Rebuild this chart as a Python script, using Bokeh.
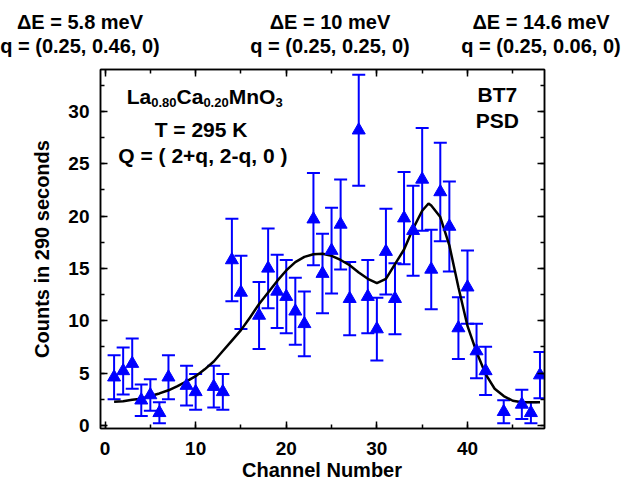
from bokeh.plotting import figure
from bokeh.layouts import column
from bokeh.models import (ColumnDataSource, Whisker, TeeHead, Label, LinearAxis,
                          SingleIntervalTicker, Range1d, Div)
from bokeh.embed import file_html
from bokeh.resources import INLINE

# ---- data ----
channel = [1, 2, 3, 4, 5, 6, 7, 9, 10, 12, 13, 14, 15, 17, 18, 19, 20, 21, 22, 23,
           24, 25, 26, 27, 28, 29, 30, 31, 32, 33, 34, 35, 36, 37, 38, 39, 40, 41,
           42, 44, 46, 47, 48]
counts = [4.6, 5.2, 5.9, 2.4, 2.9, 1.2, 4.6, 3.8, 3.2, 3.7, 3.2, 15.8, 12.7, 10.5,
          15.0, 12.8, 12.3, 10.9, 9.7, 19.7, 14.5, 16.7, 19.2, 12.1, 28.2, 12.3,
          9.2, 16.6, 12.1, 19.8, 18.6, 23.5, 14.9, 22.3, 19.0, 9.3, 13.2, 7.1,
          5.2, 1.3, 2.0, 1.2, 4.8]
errors = [2.1, 2.25, 2.4, 1.5, 1.5, 1.0, 2.1, 1.9, 1.7, 2.0, 1.7, 3.95, 3.5, 3.2,
          3.8, 3.5, 3.5, 3.2, 3.1, 4.4, 3.8, 4.1, 4.3, 3.5, 5.3, 3.5, 3.0, 4.1,
          3.4, 4.4, 4.3, 4.9, 3.8, 4.7, 4.3, 2.95, 3.5, 2.6, 2.3, 1.1, 1.4, 1.0, 2.2]
fit_channel = [1, 2, 3, 4, 5, 6, 7, 8, 9, 10, 11, 12, 13, 14, 15, 16, 17, 18, 19,
               20, 21, 22, 23, 24, 25, 26, 27, 28, 29, 30, 31, 32, 33, 34, 35, 35.7,
               36, 37, 38, 39, 40, 41, 42, 43, 44, 45, 46, 47, 48]
fit_counts = [2.25, 2.3, 2.45, 2.55, 2.8, 3.05, 3.35, 3.75, 4.2, 4.7, 5.35, 6.1, 7.1,
              8.1, 9.1, 10.3, 11.6, 12.7, 13.8, 14.8, 15.6, 16.1, 16.35, 16.4, 16.2,
              15.8, 15.3, 14.6, 14.0, 13.6, 14.0, 15.4, 16.8, 18.8, 20.5, 21.2, 21.0,
              19.9, 17.2, 13.2, 9.5, 7.0, 4.9, 3.5, 2.8, 2.35, 2.2, 2.2, 2.2]
x_tick_step = 10
y_tick_step = 5

header_texts = ["\u0394E = 5.8 meV", "q = (0.25, 0.46, 0)",
                "\u0394E = 10 meV", "q = (0.25, 0.25, 0)",
                "\u0394E = 14.6 meV", "q = (0.25, 0.06, 0)"]
x_title = "Channel Number"
y_title = "Counts in 290 seconds"

FONT = "Liberation Sans"
W = 629
HEAD_H = 62
FOOT_H = 16
MAIN_H = 482 - HEAD_H - FOOT_H


def esc(s):
    return (s.replace("&", "&amp;").replace("<", "&lt;")
            .encode("ascii", "xmlcharrefreplace").decode())


def text_block(items, w, h, size, line_h):
    parts = []
    for t, cx, top in items:
        parts.append(
            f'<div style="position:absolute;left:{cx}px;top:{top}px;'
            f'transform:translateX(-50%);white-space:nowrap;'
            f'line-height:{line_h}px;font-family:\'{FONT}\';font-weight:bold;'
            f'font-size:{size}px;color:#000;">{esc(t)}</div>')
    return (f'<div style="position:relative;width:{w}px;height:{h}px;'
            f'overflow:visible;">' + "".join(parts) + '</div>')


# ---- header: energy transfer / q labels above the frame ----
head_cx = [80, 80, 330, 330, 541, 541]
head_top = [12, 36, 12, 36, 12, 36]
head = Div(text=text_block(list(zip(header_texts, head_cx, head_top)),
                           W, HEAD_H, 20, 20),
           width=W, height=HEAD_H, margin=0, styles={"overflow": "visible"})

# ---- main plot ----
p = figure(width=W, height=MAIN_H, output_backend="svg", toolbar_location=None,
           x_range=Range1d(-0.5, 48.5), y_range=Range1d(-0.3, 34.0),
           min_border_left=100, min_border_right=85, min_border_top=7,
           min_border_bottom=MAIN_H - 7 - 359, margin=0)
p.grid.visible = False
p.outline_line_color = "black"
p.outline_line_width = 1.5

bottom = p.below[0]
left = p.left[0]
bottom.ticker = SingleIntervalTicker(interval=x_tick_step, num_minor_ticks=2)
left.ticker = SingleIntervalTicker(interval=y_tick_step, num_minor_ticks=2)

top = LinearAxis(ticker=SingleIntervalTicker(interval=x_tick_step, num_minor_ticks=2))
right = LinearAxis(ticker=SingleIntervalTicker(interval=y_tick_step, num_minor_ticks=2))
p.add_layout(top, "above")
p.add_layout(right, "right")

for ax in [bottom, left, top, right]:
    ax.major_tick_in = 7
    ax.major_tick_out = 0
    ax.minor_tick_in = 4
    ax.minor_tick_out = 0
    ax.axis_line_width = 1.5
    ax.major_tick_line_width = 1.5
    ax.minor_tick_line_width = 1.5
    ax.axis_line_color = "black"
    ax.major_label_text_font = FONT
    ax.major_label_text_font_style = "bold"
    ax.major_label_text_font_size = "19px"
    ax.major_label_text_color = "black"
    ax.axis_label_text_font = FONT
    ax.axis_label_text_font_style = "bold"
    ax.axis_label_text_font_size = "20px"
    ax.axis_label_text_color = "black"

for ax in [top, right]:
    ax.major_label_text_color = None
    ax.major_label_text_font_size = "1px"
    ax.major_label_standoff = 0

bottom.major_label_standoff = 13
left.major_label_standoff = 11
left.axis_label = y_title
left.axis_label_standoff = 12

src = ColumnDataSource(dict(
    x=channel, y=counts,
    upper=[c + e for c, e in zip(counts, errors)],
    lower=[c - e for c, e in zip(counts, errors)],
))

w = Whisker(base="x", upper="upper", lower="lower", source=src,
            line_color="blue", line_width=2,
            upper_head=TeeHead(size=13, line_color="blue", line_width=2),
            lower_head=TeeHead(size=13, line_color="blue", line_width=2))
w.level = "underlay"
p.add_layout(w)

p.line(fit_channel, fit_counts, line_color="black", line_width=2.5)
p.scatter("x", "y", source=src, marker="triangle", size=13,
          fill_color="blue", line_color="blue")


def lab(text, x, y, size="21px", align="center", dx=0, dy=0):
    p.add_layout(Label(x=x, y=y, x_offset=dx, y_offset=dy, text=text,
                       text_font=FONT, text_font_style="bold", text_font_size=size,
                       text_align=align, text_baseline="alphabetic",
                       text_color="black"))


# formula with subscripts (positions in data units + pixel offsets)
fx, fy = 2.4, 31.45
lab("La", fx, fy, align="left")
lab("0.80", fx, fy, size="13px", align="left", dx=24.5, dy=-6)
lab("Ca", fx, fy, align="left", dx=49.8)
lab("0.20", fx, fy, size="13px", align="left", dx=76.6, dy=-6)
lab("MnO", fx, fy, align="left", dx=101.9)
lab("3", fx, fy, size="13px", align="left", dx=148.6, dy=-6)

lab("T = 295 K", 10.6, 28.3)
lab("Q = ( 2+q, 2-q, 0 )", 10.8, 25.8)
lab("BT7", 43.3, 31.6)
lab("PSD", 43.3, 29.1)

# ---- footer: x-axis title ----
foot = Div(text=text_block([(x_title, 322, -3)], W, FOOT_H, 20, 14),
           width=W, height=FOOT_H, margin=0, styles={"overflow": "visible"})

page = column(head, p, foot, spacing=0)
open("out.html", "w").write(file_html(page, INLINE))
